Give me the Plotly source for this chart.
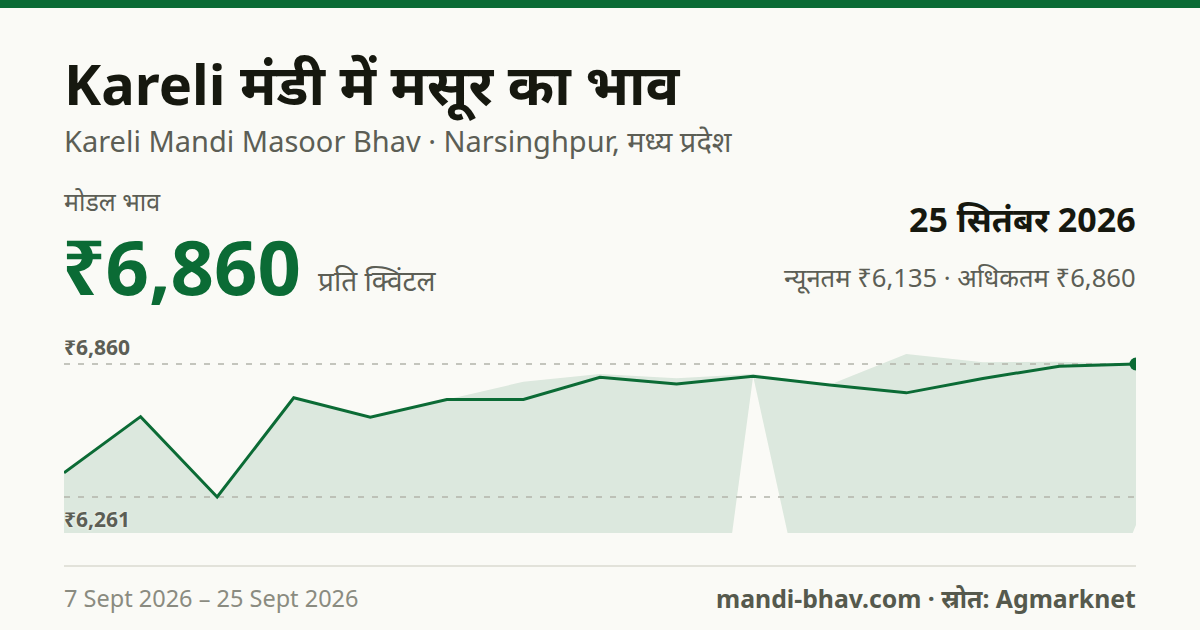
import plotly.graph_objects as go

#%%-----------------------------------------------------------------------
# DATA (Kareli mandi, masoor, Rs per quintal)

dates = ['2026-09-07', '2026-09-08', '2026-09-09', '2026-09-10', '2026-09-11',
         '2026-09-12', '2026-09-14', '2026-09-15', '2026-09-16', '2026-09-17',
         '2026-09-18', '2026-09-21', '2026-09-22', '2026-09-24', '2026-09-25']
modal_price = [6370, 6623, 6261, 6708, 6620, 6700, 6700, 6800, 6770, 6805,
               6765, 6730, 6795, 6850, 6860]
max_price = [6370, 6623, 6261, 6708, 6620, 6700, 6780, 6815, 6796, 6815,
             6767, 6905, 6868, 6870, 6860]
min_price = [5900, 5950, 5800, 5900, 5950, 5900, 6000, 5950, 4231, 6805,
             5235, 5600, 5700, 5300, 6135]

ref_lines = [6860, 6261]
ref_labels = ['₹6,860', '₹6,261']

#%%-----------------------------------------------------------------------
# page geometry helpers (pixels -> paper coords)
W, H = 1200, 630
L, R, T, B = 64, 64, 335, 97
pw, ph = W - L - R, H - T - B

def px(x):
    return (x - L) / pw

def py(y):
    return (H - B - y) / ph

GREEN = '#0b6b35'
DARK = '#16180f'
GREY = '#5c5e55'
LIGHT = '#8a8b80'
BG = '#fafaf6'
FONT = 'Noto Sans'

x = list(range(len(dates)))

fig = go.Figure()

# min-max band
fig.add_trace(go.Scatter(x=x, y=max_price, mode='lines', line=dict(width=0),
                         hoverinfo='skip', showlegend=False))
fig.add_trace(go.Scatter(x=x, y=min_price, mode='lines', line=dict(width=0),
                         fill='tonexty', fillcolor='rgba(11,107,53,0.12)',
                         hoverinfo='skip', showlegend=False))

# dashed reference lines
for v in ref_lines:
    fig.add_trace(go.Scatter(x=[x[0], x[-1]], y=[v, v], mode='lines',
                             line=dict(color='#b3b4ab', width=1.5, dash='6px,8px'),
                             hoverinfo='skip', showlegend=False))

# modal price line
fig.add_trace(go.Scatter(x=x, y=modal_price, mode='lines',
                         line=dict(color=GREEN, width=3),
                         customdata=dates, hovertemplate='%{customdata}: ₹%{y:,}<extra></extra>',
                         showlegend=False))
fig.add_trace(go.Scatter(x=[x[-1]], y=[modal_price[-1]], mode='markers',
                         marker=dict(color=GREEN, size=13), hoverinfo='skip',
                         showlegend=False))

ann = []
def text(t, x_px, y_px, size, color, bold=False, anchor='left'):
    ann.append(dict(text=t, x=px(x_px), y=py(y_px), xref='paper', yref='paper',
                    xanchor=anchor, yanchor='middle', showarrow=False,
                    font=dict(family=FONT, size=size, color=color,
                              weight='bold' if bold else 'normal')))

text('Kareli मंडी में मसूर का भाव', 62, 83, 56, DARK, bold=True)
text('Kareli Mandi Masoor Bhav · Narsinghpur, मध्य प्रदेश', 62, 141, 29, GREY)
text('मोडल भाव', 62, 201, 25, GREY)
text('₹6,860', 60, 265, 76, GREEN, bold=True)
text('प्रति क्विंटल', 316, 280, 28, GREY)
text('25 सितंबर 2026', 1138, 219, 34, DARK, bold=True, anchor='right')
text('न्यूनतम ₹6,135 · अधिकतम ₹6,860', 1138, 277, 25.6, GREY, anchor='right')
text('7 Sept 2026 – 25 Sept 2026', 62, 598, 23.5, LIGHT)
text('mandi-bhav.com · स्रोत: Agmarknet', 1138, 598, 24.8, '#55594d', bold=True, anchor='right')

# labels on the reference lines
for v, lab, yy in zip(ref_lines, ref_labels, [347, 519]):
    ann.append(dict(text=lab, x=px(62), y=py(yy), xref='paper', yref='paper',
                    xanchor='left', yanchor='middle', showarrow=False,
                    font=dict(family=FONT, size=21, color=GREY, weight='bold',
                              shadow='0px 0px 3px ' + BG)))

shapes = [
    # top green bar
    dict(type='rect', xref='paper', yref='paper', x0=px(0), x1=px(W),
         y0=py(8), y1=py(0), fillcolor=GREEN, line=dict(width=0)),
    # footer separator
    dict(type='line', xref='paper', yref='paper', x0=px(64), x1=px(1136),
         y0=py(566), y1=py(566), line=dict(color='#e2e2da', width=2)),
]

fig.update_layout(
    width=W, height=H,
    margin=dict(l=L, r=R, t=T, b=B),
    paper_bgcolor=BG, plot_bgcolor='rgba(0,0,0,0)',
    xaxis=dict(range=[0, len(dates) - 1], visible=False, fixedrange=True),
    yaxis=dict(range=[6098.8, 6990.6], visible=False, fixedrange=True),
    annotations=ann, shapes=shapes,
    hovermode='closest',
)

# page has a default 8px body margin; drop it so the card sits at (0,0)
fig.write_html('out.html', config={'displayModeBar': False},
               post_script="document.body.style.margin='0';document.body.style.background='%s';" % BG)
